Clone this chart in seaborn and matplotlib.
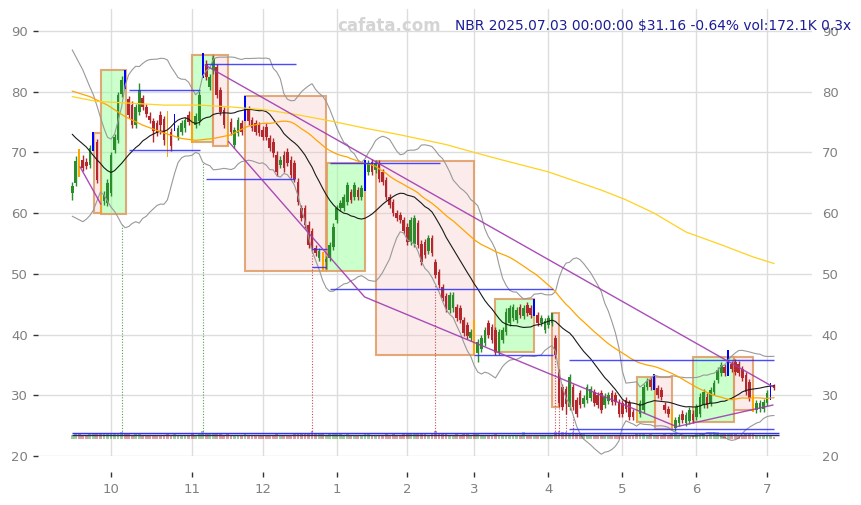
import numpy as np
import pandas as pd
import matplotlib
matplotlib.use("Agg")
import matplotlib.pyplot as plt
import seaborn as sns
from matplotlib.patches import Rectangle
from matplotlib.colors import to_rgba

# ---------------- data ----------------
ticker = "NBR"
start_date = "2024-09-16"
end_date = "2025-07-03"
market_holidays = ["2024-11-28", "2024-12-25", "2025-01-01", "2025-01-09", "2025-01-20",
                   "2025-02-17", "2025-04-18", "2025-05-26", "2025-06-19"]

opens = [63.3, 65.0, 70.0, 68.8, 68.5, 67.9, 70.7, 71.8, 64.4, 62.0,
         61.7, 63.3, 70.4, 72.0, 79.7, 83.4, 78.8, 77.8, 74.5, 76.7,
         78.9, 77.5, 76.0, 75.1, 74.8, 76.2, 75.5, 76.2, 73.4, 74.0,
         72.6, 73.3, 74.0, 76.2, 76.2, 74.5, 75.1, 82.5, 84.6, 80.8,
         83.5, 84.1, 80.3, 77.0, 75.3, 75.0, 71.2, 73.2, 74.8, 75.6,
         77.0, 75.3, 74.8, 74.5, 73.7, 74.2, 72.3, 71.8, 69.6, 67.9,
         69.6, 70.1, 68.8, 68.2, 65.2, 60.8, 60.8, 58.1, 57.0, 54.2,
         52.6, 53.1, 51.9, 52.6, 54.5, 58.9, 60.8, 60.8, 61.9, 63.5,
         62.7, 63.8, 62.7, 64.1, 66.8, 68.5, 67.1, 68.2, 66.8, 65.5,
         62.7, 61.9, 60.0, 59.7, 58.9, 57.8, 55.3, 55.0, 58.3, 55.0,
         55.3, 53.7, 55.9, 52.0, 50.3, 47.9, 46.3, 44.0, 44.3, 44.6,
         44.3, 42.4, 41.5, 39.4, 41.9, 36.9, 37.7, 38.6, 41.9, 41.3,
         40.8, 37.2, 39.1, 40.5, 41.9, 42.7, 42.4, 44.6, 43.0, 44.9,
         44.3, 43.5, 43.2, 41.9, 40.8, 41.6, 41.9, 39.4, 33.9, 31.4,
         31.0, 28.1, 31.4, 29.2, 30.3, 28.5, 29.2, 29.5, 30.6, 30.1,
         30.3, 28.4, 29.0, 30.3, 30.0, 28.9, 28.7, 29.2, 28.7, 27.3,
         27.0, 27.0, 27.6, 31.4, 32.5, 31.4, 31.2, 30.9, 28.4, 27.8,
         27.3, 24.6, 25.4, 27.0, 25.4, 25.7, 27.0, 26.5, 27.0, 28.4,
         29.8, 28.7, 30.6, 32.5, 33.6, 34.7, 33.6, 35.2, 35.5, 35.2,
         34.4, 33.3, 32.2, 29.5, 27.6, 27.8, 27.8, 28.7, 29.8, 31.7]
highs = [65.2, 69.4, 70.6, 69.5, 69.1, 71.2, 73.3, 72.2, 64.8, 63.6,
         65.6, 70.1, 73.1, 79.9, 82.6, 83.6, 79.3, 78.4, 78.0, 81.5,
         79.5, 78.0, 76.6, 75.7, 75.4, 76.8, 76.0, 76.8, 74.0, 76.3,
         74.6, 75.4, 75.8, 76.8, 76.6, 76.5, 80.1, 86.4, 85.2, 82.9,
         86.1, 84.6, 80.8, 77.5, 75.8, 75.6, 74.2, 75.8, 75.3, 79.3,
         77.6, 75.9, 75.3, 75.0, 74.3, 74.8, 72.9, 72.4, 70.2, 69.4,
         70.3, 70.7, 69.4, 68.8, 65.8, 61.4, 61.3, 58.7, 57.6, 54.8,
         54.2, 53.6, 53.0, 55.3, 58.3, 61.3, 62.1, 63.2, 65.1, 64.0,
         65.1, 64.3, 64.6, 68.8, 68.7, 69.0, 68.7, 68.7, 67.3, 66.0,
         63.2, 62.4, 60.5, 60.2, 59.4, 58.3, 59.4, 59.7, 58.8, 55.5,
         55.8, 56.4, 56.4, 52.5, 50.8, 48.4, 46.8, 47.0, 47.0, 45.1,
         44.8, 42.9, 42.0, 41.0, 42.4, 39.3, 39.9, 41.3, 42.4, 41.8,
         41.3, 41.0, 41.3, 44.3, 44.8, 45.1, 44.5, 45.1, 44.8, 45.4,
         44.8, 45.9, 43.7, 43.2, 42.7, 43.2, 43.6, 39.9, 34.4, 31.9,
         31.5, 33.5, 31.9, 29.7, 30.8, 30.0, 31.9, 31.5, 31.1, 30.6,
         30.8, 30.3, 30.6, 30.8, 30.5, 29.4, 29.2, 29.7, 29.2, 27.8,
         27.5, 29.2, 31.9, 32.8, 33.0, 33.5, 31.7, 31.4, 28.9, 28.3,
         27.8, 26.5, 27.0, 27.5, 27.2, 28.1, 27.5, 28.6, 30.3, 31.1,
         30.3, 31.4, 32.5, 34.7, 35.5, 35.2, 37.5, 35.7, 36.0, 35.7,
         34.9, 33.8, 32.7, 30.0, 29.2, 29.2, 29.4, 30.8, 32.0, 31.9]
lows = [62.2, 64.5, 66.0, 66.9, 67.2, 67.4, 70.3, 65.0, 59.8, 61.4,
        61.2, 62.8, 69.9, 71.6, 79.2, 80.5, 75.6, 74.0, 74.0, 76.2,
        77.0, 75.8, 74.8, 71.8, 72.7, 73.0, 71.2, 69.3, 70.3, 73.5,
        72.0, 72.8, 73.4, 74.5, 71.6, 74.0, 74.6, 82.2, 82.0, 80.3,
        83.0, 79.0, 76.2, 74.0, 71.1, 72.9, 70.8, 72.7, 72.9, 75.2,
        74.6, 73.5, 72.9, 72.7, 72.0, 72.1, 70.2, 69.3, 66.2, 67.4,
        66.8, 67.7, 65.8, 65.2, 61.4, 58.7, 57.6, 54.3, 53.6, 52.9,
        52.1, 50.5, 50.8, 52.1, 54.0, 58.4, 60.3, 60.3, 61.4, 61.7,
        62.2, 62.2, 62.2, 63.6, 66.3, 66.3, 66.6, 65.2, 64.7, 62.2,
        60.8, 59.5, 58.7, 58.4, 56.5, 54.8, 54.8, 54.5, 54.3, 51.5,
        52.6, 53.2, 52.9, 49.3, 47.7, 45.5, 43.8, 43.5, 43.8, 42.2,
        41.9, 39.7, 39.3, 38.9, 36.6, 35.5, 37.2, 38.1, 39.4, 38.6,
        36.7, 36.7, 38.6, 40.0, 41.4, 42.2, 41.9, 42.7, 42.5, 43.0,
        42.7, 43.0, 41.4, 41.4, 40.3, 41.1, 41.4, 36.1, 28.1, 27.6,
        27.0, 27.6, 27.6, 26.5, 27.9, 28.0, 28.7, 29.0, 28.2, 27.9,
        27.1, 27.9, 28.5, 28.4, 28.4, 26.5, 26.5, 27.3, 26.0, 26.0,
        25.6, 26.5, 27.1, 30.9, 30.9, 30.9, 29.6, 29.3, 27.1, 26.5,
        24.5, 24.1, 24.9, 25.4, 24.9, 25.2, 25.5, 26.0, 26.5, 27.9,
        27.9, 28.2, 30.1, 32.0, 33.1, 33.1, 33.1, 33.9, 33.4, 33.1,
        32.3, 30.1, 29.0, 27.3, 27.1, 27.3, 27.3, 28.2, 29.3, 30.8]
closes = [64.4, 68.6, 66.5, 67.4, 67.7, 70.7, 72.5, 65.5, 60.8, 63.0,
          65.0, 69.6, 72.6, 79.5, 81.9, 80.9, 76.1, 74.5, 77.5, 80.3,
          77.5, 76.3, 75.3, 73.5, 73.2, 74.5, 72.0, 70.4, 71.0, 76.0,
          74.0, 74.8, 75.3, 75.0, 72.0, 76.0, 79.5, 85.8, 82.5, 82.4,
          85.6, 79.5, 76.7, 74.5, 72.6, 73.4, 73.7, 75.3, 73.4, 78.8,
          75.1, 74.0, 73.4, 73.2, 72.6, 72.6, 70.7, 69.9, 66.8, 68.8,
          67.4, 68.2, 66.3, 65.7, 61.9, 59.2, 58.1, 54.8, 54.2, 53.4,
          53.7, 51.2, 52.5, 54.8, 57.8, 60.8, 61.6, 62.7, 64.6, 62.2,
          64.6, 62.7, 64.1, 68.3, 68.2, 66.8, 68.2, 65.7, 65.2, 62.7,
          61.3, 60.0, 59.2, 58.9, 57.0, 55.3, 58.9, 59.2, 54.8, 52.0,
          53.1, 55.9, 53.4, 49.8, 48.2, 46.0, 44.3, 46.5, 46.5, 42.7,
          42.4, 40.2, 39.8, 40.5, 37.2, 38.8, 39.4, 40.8, 39.9, 39.1,
          37.2, 40.5, 40.8, 43.8, 44.3, 44.6, 44.0, 43.2, 44.3, 43.5,
          43.2, 45.5, 41.9, 42.7, 42.2, 42.7, 43.5, 36.6, 28.8, 28.1,
          28.6, 33.0, 28.1, 27.0, 28.4, 29.5, 31.4, 31.0, 28.7, 28.4,
          27.6, 29.8, 30.1, 28.9, 28.9, 27.0, 27.0, 27.8, 26.5, 26.5,
          25.9, 28.7, 31.4, 32.3, 31.4, 33.0, 30.1, 29.8, 27.6, 27.0,
          24.8, 26.0, 26.5, 25.9, 26.7, 27.6, 26.0, 28.1, 29.8, 30.6,
          28.4, 30.9, 32.0, 34.2, 35.0, 33.6, 35.3, 34.4, 33.9, 33.6,
          32.8, 30.6, 29.5, 27.6, 28.7, 28.7, 28.9, 30.3, 31.36, 31.16]
volumes_k = [540, 610, 580, 520, 560, 600, 590, 640, 700, 620,
             580, 650, 600, 680, 980, 700, 620, 560, 590, 610,
             560, 540, 520, 500, 530, 560, 520, 600, 540, 570,
             520, 500, 490, 540, 600, 560, 640, 1020, 680, 600,
             620, 640, 580, 560, 600, 540, 520, 500, 510, 600,
             560, 520, 500, 480, 500, 520, 540, 560, 620, 560,
             540, 520, 560, 580, 640, 660, 620, 680, 1060, 640,
             600, 640, 560, 580, 620, 640, 600, 560, 580, 540,
             560, 520, 540, 640, 580, 540, 520, 560, 540, 580,
             560, 600, 540, 520, 580, 600, 620, 580, 640, 680,
             600, 560, 580, 1100, 640, 620, 600, 560, 540, 580,
             560, 600, 580, 540, 620, 600, 560, 540, 520, 540,
             580, 560, 520, 560, 540, 520, 560, 560, 940, 520,
             500, 560, 540, 520, 500, 540, 560, 980, 1080, 860,
             920, 700, 940, 640, 600, 580, 560, 540, 560, 540,
             560, 520, 500, 520, 540, 560, 540, 520, 560, 540,
             600, 580, 620, 560, 600, 560, 540, 560, 580, 560,
             620, 580, 540, 520, 540, 560, 520, 580, 600, 620,
             560, 600, 960, 920, 640, 580, 700, 600, 580, 560,
             560, 600, 620, 600, 540, 520, 500, 540, 560, 172.1]

high_marker_days = [6, 15, 29, 37, 49, 83, 131, 165, 186, 198]
low_marker_days = [2, 8, 27, 34, 44, 71, 114, 160, 170, 193]
volume_spike_days = [14, 37, 68, 103, 137, 138, 140, 142, 182, 183]

# moving-average values before a full window is available
ma20_warmup = [73.0, 72.4, 71.9, 71.4, 70.9, 70.2, 69.5, 68.8, 68.2, 67.5,
               67.0, 66.7, 67.0, 67.6, 68.2, 68.9, 69.6, 70.2, 70.8]
bb_upper_warmup = [86.9, 85.8, 84.7, 83.6, 82.2, 80.8, 79.5, 77.7, 75.8, 74.0,
                   72.5, 72.2, 73.0, 75.2, 77.5, 81.0, 82.8, 83.6, 84.2]
bb_lower_warmup = [59.5, 59.2, 58.9, 58.6, 59.0, 59.6, 60.5, 62.0, 63.5, 63.0,
                   62.0, 61.0, 60.3, 59.3, 58.2, 57.6, 57.8, 58.3, 58.6]
ma50_warmup_days = [0, 5, 10, 15, 20, 26, 31, 35, 40, 45]
ma50_warmup_vals = [80.1, 79.2, 77.8, 75.9, 74.5, 73.2, 72.3, 72.0, 72.3, 72.9]
ma200_days = [0, 7, 17, 26, 36, 45, 55, 64, 74, 83, 93, 106, 114, 121, 135,
              150, 157, 165, 174, 184, 193, 199]
ma200_vals = [79.2, 78.4, 78.1, 77.8, 77.8, 77.5, 77.0, 76.2, 75.1, 74.0, 72.9,
              71.3, 70.0, 68.9, 66.8, 63.8, 62.2, 60.0, 56.9, 54.8, 52.8, 51.7]

# swing zones: (start day, end day, low price, high price)
up_zones = [(8.2, 15.2, 59.9, 83.6), (34.1, 40.0, 71.7, 86.1), (72.2, 83.0, 50.5, 68.3),
            (120.0, 131.0, 37.1, 45.8), (160.1, 165.2, 25.65, 33.0), (176.1, 187.6, 25.65, 36.25)]
down_zones = [(6.3, 8.2, 60.0, 73.2), (40.0, 44.3, 71.1, 86.1), (49.1, 72.0, 50.5, 79.3),
              (86.1, 113.9, 36.6, 68.6), (136.1, 138.1, 28.1, 43.55), (165.2, 170.0, 24.5, 33.0),
              (187.6, 192.9, 27.5, 36.25)]
# support / resistance levels: (from day, to day, price)
level_lines = [(16.2, 36.3, 80.3), (16.2, 36.3, 70.4), (38.0, 63.5, 84.6), (38.0, 63.2, 65.6),
               (73.1, 104.3, 68.3), (68.0, 72.2, 54.1), (68.0, 72.0, 51.1), (73.0, 136.2, 47.5),
               (114.0, 136.2, 36.6), (140.9, 199.0, 35.8), (140.9, 199.0, 24.4)]
# trend lines: list of (day, price) vertices
trend_lines = [[(2.2, 67.65), (8.1, 61.5)],
               [(44.3, 71.8), (82.9, 46.2), (171.4, 24.83), (198.7, 28.4)],
               [(37.65, 84.4), (198.7, 31.4)]]
volume_levels_k = {"blue": 720, "black": 430}
volume_floor_price = 23.6

# ---------------- build ----------------
hol = pd.to_datetime(market_holidays)
dates = pd.bdate_range(start_date, end_date)
dates = dates[~dates.isin(hol)]
n = len(closes)
assert len(dates) == n
x = np.arange(n)

df = pd.DataFrame({"o": opens, "h": highs, "l": lows, "c": closes, "v": volumes_k}, index=x)
s = df["c"]
ma20 = s.rolling(20).mean().to_numpy()
sd20 = s.rolling(20).std().to_numpy()
bb_up = ma20 + 2 * sd20
bb_lo = ma20 - 2 * sd20
ma20[:19] = ma20_warmup
bb_up[:19] = bb_upper_warmup
bb_lo[:19] = bb_lower_warmup
ma50 = s.rolling(50).mean().to_numpy()
ma50_x = list(ma50_warmup_days) + list(range(49, n))
ma50_y = list(ma50_warmup_vals) + list(ma50[49:])

sns.set_theme(style="whitegrid")
plt.rcParams["font.family"] = ["DejaVu Sans"]

W, H = 861, 505
fig = plt.figure(figsize=(W / 100, H / 100), dpi=100)
ax = fig.add_axes([38 / W, 49 / H, 774 / W, 447 / H])
ax.set_facecolor("white")

GREEN = "#2a8c2a"
RED = "#b3282d"
BLUE = "#0000ff"
ORANGE = "#ffa500"

# zones
edge = to_rgba("#e09a60", 0.85)
for x0, x1, lo, hi in up_zones:
    ax.add_patch(Rectangle((x0, lo), x1 - x0, hi - lo, facecolor=to_rgba("#99ff99", 0.5),
                           edgecolor=edge, lw=1.5, zorder=1))
for x0, x1, lo, hi in down_zones:
    ax.add_patch(Rectangle((x0, lo), x1 - x0, hi - lo, facecolor=to_rgba("#f5c0c0", 0.3),
                           edgecolor=edge, lw=1.5, zorder=1))

# candles
up = df["c"] >= df["o"]
col = np.where(up, GREEN, RED)
normal = ~df.index.isin(high_marker_days + low_marker_days)
body_lo = np.minimum(df["o"], df["c"])
body_h = np.maximum((df["c"] - df["o"]).abs(), 0.15)
ax.vlines(x[normal], df["l"][normal], df["h"][normal], colors=col[normal], lw=1, zorder=3)
ax.bar(x[normal], body_h[normal], bottom=body_lo[normal], width=0.75, color=col[normal],
       linewidth=0, zorder=3)
for days, mc in ((high_marker_days, BLUE), (low_marker_days, ORANGE)):
    d = df.loc[days]
    ax.bar(d.index, d["h"] - d["l"], bottom=d["l"], width=0.5, color=mc, linewidth=0, zorder=3)

# averages
sns.lineplot(x=x, y=bb_up, ax=ax, color="#999999", lw=0.8, zorder=4, estimator=None)
sns.lineplot(x=x, y=bb_lo, ax=ax, color="#999999", lw=0.8, zorder=4, estimator=None)
sns.lineplot(x=x, y=ma20, ax=ax, color="#1a1a1a", lw=0.8, zorder=4, estimator=None)
sns.lineplot(x=ma50_x, y=ma50_y, ax=ax, color="#ffa500", lw=0.9, zorder=4, estimator=None)
sns.lineplot(x=ma200_days, y=ma200_vals, ax=ax, color="#ffd21f", lw=0.9, zorder=4, estimator=None)

# levels and trend lines
for x0, x1, v in level_lines:
    ax.hlines(v, x0, x1, color="#2a2aff", lw=1, alpha=0.85, zorder=5)
for pts in trend_lines:
    px, py = zip(*pts)
    ax.plot(px, py, color="#a03ab0", lw=1, alpha=0.9, zorder=5)

# volume spike markers
for d in volume_spike_days:
    c = GREEN if closes[d] >= opens[d] else RED
    ax.vlines(d, volume_floor_price, bb_lo[d], colors=c, linestyles=(0, (1, 1.5)), lw=0.8,
              alpha=0.8, zorder=2)

ax.set_xlim(-9.7, 209.75)
ax.set_ylim(20, 93.63)

# volume
ax_v = ax.twinx()
vmed = float(np.median(volumes_k))
span = 447 / 4.0 * vmed
base_frac = (456 - 438.5) / 447
ax_v.set_ylim(-base_frac * span, (1 - base_frac) * span)
vcol = [to_rgba(GREEN if u else RED, 0.45) for u in up]
ax_v.bar(x, df["v"], width=0.8, color=vcol, linewidth=0)
ax_v.hlines(volume_levels_k["blue"], x[0], x[-1] + 1.5, color="#3030ff", lw=1.0)
ax_v.hlines(volume_levels_k["black"], x[0], x[-1] + 1.5, color="#2a2a55", lw=1.0)
ax_v.set_axis_off()
ax_v.set_xlim(-9.7, 209.75)

# axes styling
month_start = [i for i in range(1, n) if dates[i].month != dates[i - 1].month]
ax.set_xticks(month_start)
ax.set_xticklabels([str(dates[i].month) for i in month_start])
ax.set_yticks(range(20, 91, 10))
ax.grid(True, color="#dddddd", lw=1)
ax.set_axisbelow(True)
for sp in ax.spines.values():
    sp.set_visible(False)
ax.spines["bottom"].set_position(("outward", 11.5))
ax.tick_params(axis="x", bottom=True, length=3.6, width=1, color="#333333",
               labelcolor="#808080", labelsize=9.5, pad=4)
ax.tick_params(axis="y", left=True, right=False, labelleft=True, labelright=True,
               length=3.6, width=1, color="#333333", labelcolor="#808080", labelsize=9.5, pad=3.5)
ax.set_xlabel("")
ax.set_ylabel("")

# header texts
last = n - 1
pct = (closes[last] / closes[last - 1] - 1) * 100
ratio = volumes_k[last] / np.mean(volumes_k[last - 19:last + 1])
header = (f"{ticker} {dates[last]:%Y.%m.%d} 00:00:00 ${closes[last]:.2f} {pct:.2f}% "
          f"vol:{volumes_k[last]:.1f}K {ratio:.1f}x")
fig.text(455 / W, 1 - 26 / H, header, ha="left", va="center", color="#1c1c96", fontsize=9.9,
         zorder=10)
fig.text(389 / W, 1 - 26 / H, "cafata.com", ha="center", va="center", color="#d4d4d4",
         fontsize=12, fontweight="bold", zorder=10)

fig.savefig("out.png", dpi=100)
